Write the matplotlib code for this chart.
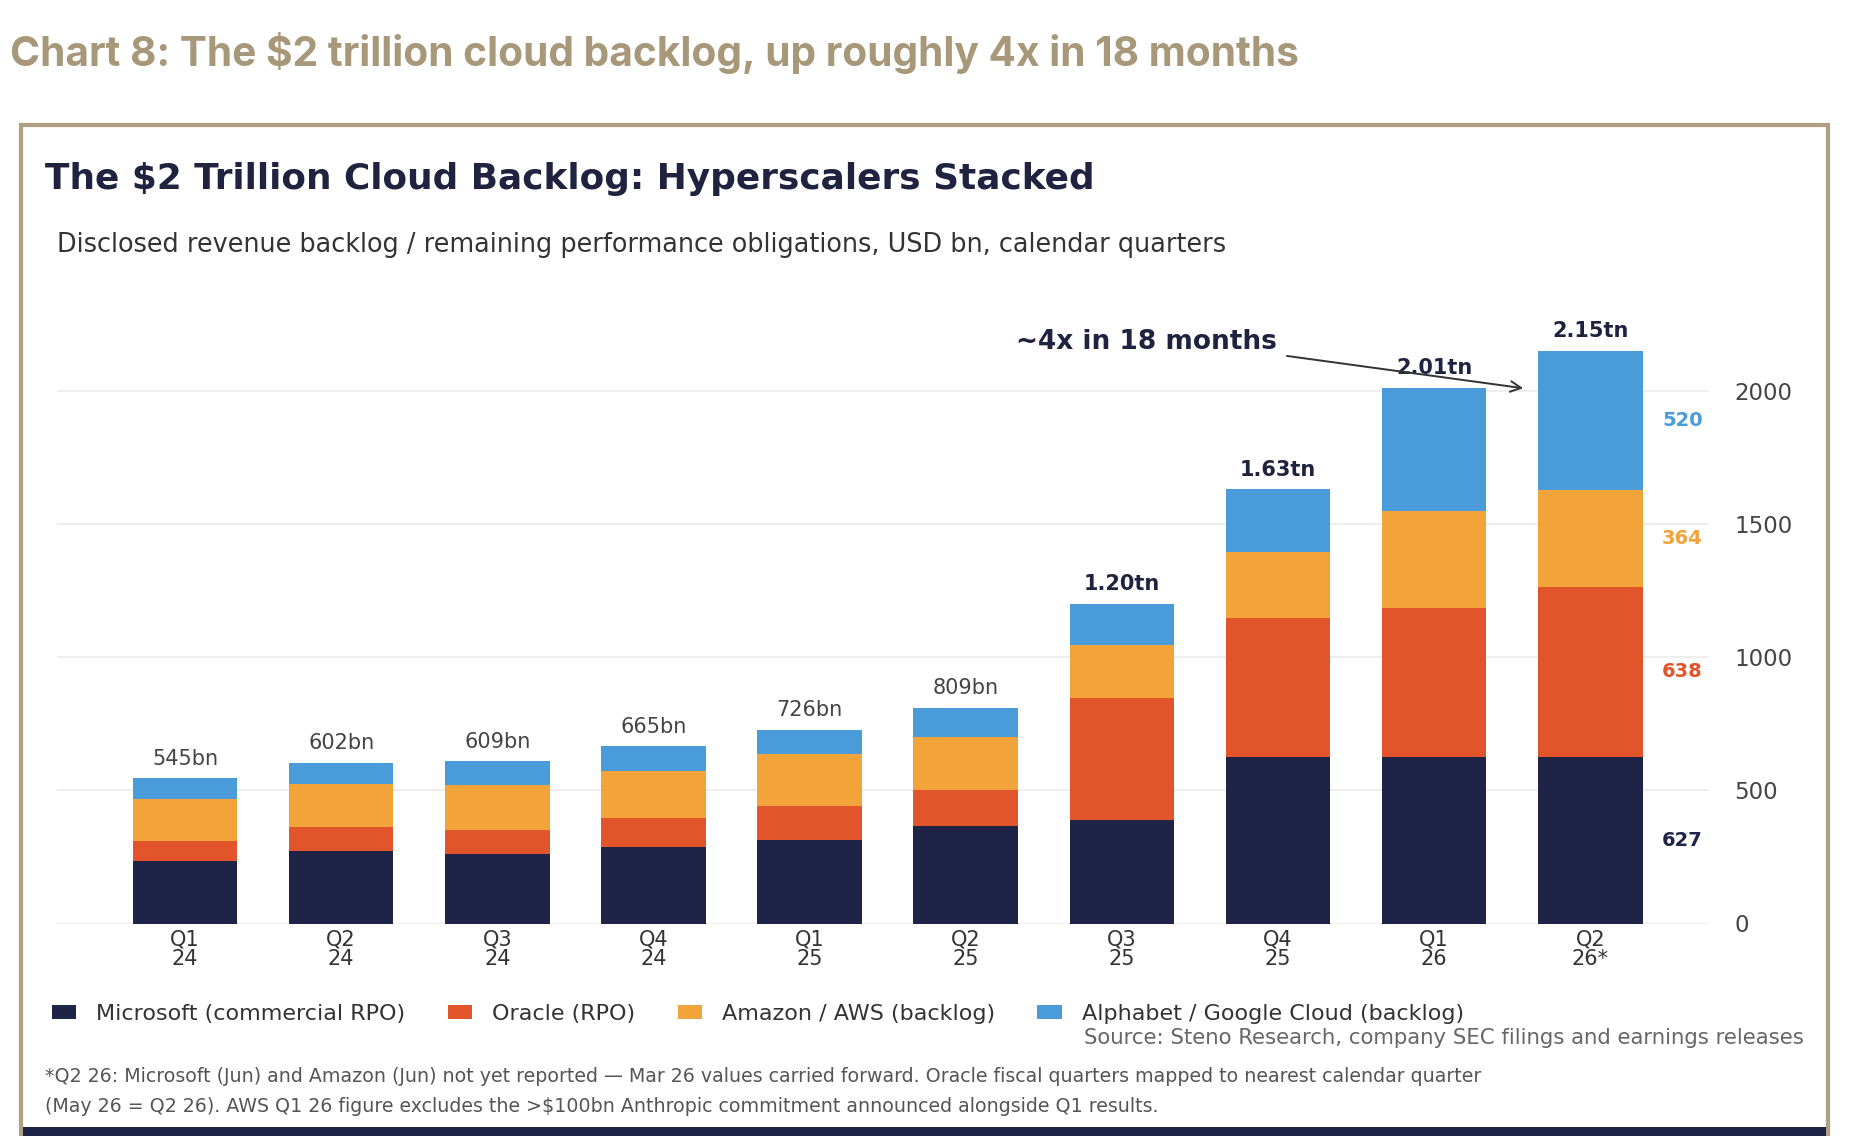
import matplotlib
matplotlib.use("Agg")
import matplotlib.pyplot as plt
from matplotlib.patches import Rectangle, Patch
import numpy as np

plt.rcParams['font.family'] = ['DejaVu Sans']

# ---------------- data ----------------
quarters = ['Q1\n24', 'Q2\n24', 'Q3\n24', 'Q4\n24', 'Q1\n25', 'Q2\n25',
            'Q3\n25', 'Q4\n25', 'Q1\n26', 'Q2\n26*']
microsoft = [235, 272, 260, 289, 313, 367, 390, 625, 627, 627]
oracle = [76, 92, 92, 108, 129, 135, 455, 523, 558, 638]
amazon = [156, 158, 167, 174, 195, 197, 200, 248, 364, 364]
google = [78, 80, 90, 94, 89, 110, 155, 234, 463, 520]
total_labels = ['545bn', '602bn', '609bn', '665bn', '726bn', '809bn',
                '1.20tn', '1.63tn', '2.01tn', '2.15tn']
series_names = ['Microsoft (commercial RPO)', 'Oracle (RPO)',
                'Amazon / AWS (backlog)', 'Alphabet / Google Cloud (backlog)']
y_ticks = [0, 500, 1000, 1500, 2000]

# ---------------- style ----------------
C_MS = '#1F2348'
C_OR = '#E2542A'
C_AM = '#F2A33A'
C_GO = '#4A9BDA'
TAN = '#B0A083'

W, H = 1860, 1136
fig = plt.figure(figsize=(W / 100, H / 100), dpi=100)
fig.patch.set_facecolor('white')

def fx(px):
    return px / W

def fy(py):
    return 1 - py / H

# page title
fig.text(fx(10), fy(53), 'Chart 8: The $2 trillion cloud backlog, up roughly 4x in 18 months',
         family=['Inter', 'DejaVu Sans'], fontweight='bold', fontsize=29.3, color='#A8987A',
         ha='left', va='center')

# box frame
fig.patches.append(Rectangle((fx(21), fy(1140)), fx(1828) - fx(21), fy(125) - fy(1140),
                             transform=fig.transFigure, facecolor='none',
                             edgecolor=TAN, linewidth=3, zorder=-1))
fig.patches.append(Rectangle((fx(21), fy(126)), fx(1828) - fx(21), 3 / H,
                             transform=fig.transFigure, facecolor=TAN,
                             edgecolor='none', zorder=-1))
# bottom dark strip
fig.patches.append(Rectangle((fx(23), 0), fx(1826) - fx(23), 9 / H,
                             transform=fig.transFigure, facecolor=C_MS,
                             edgecolor='none', zorder=-1))

# inner title / subtitle
fig.text(fx(45), fy(179), 'The $2 Trillion Cloud Backlog: Hyperscalers Stacked',
         fontweight='bold', fontsize=25.8, color='#1F2340', ha='left', va='center')
fig.text(fx(57), fy(245), 'Disclosed revenue backlog / remaining performance obligations, USD bn, calendar quarters',
         fontsize=18.4, color='#333333', ha='left', va='center')

# ---------------- axes ----------------
ax = fig.add_axes([fx(57), fy(923.5), fx(1709) - fx(57), (923.5 - 311) / H])
x = np.arange(len(quarters))
width = 0.67
ms = np.array(microsoft)
orc = np.array(oracle)
am = np.array(amazon)
go = np.array(google)

ax.bar(x, ms, width, color=C_MS, label=series_names[0], zorder=3)
ax.bar(x, orc, width, bottom=ms, color=C_OR, label=series_names[1], zorder=3)
ax.bar(x, am, width, bottom=ms + orc, color=C_AM, label=series_names[2], zorder=3)
ax.bar(x, go, width, bottom=ms + orc + am, color=C_GO, label=series_names[3], zorder=3)

totals = ms + orc + am + go
for i, (t, lab) in enumerate(zip(totals, total_labels)):
    bold = lab.endswith('tn')
    ax.annotate(lab, (i, t), xytext=(0, 7), textcoords='offset points',
                ha='center', va='bottom', fontsize=15,
                fontweight='bold' if bold else 'normal',
                color='#1F2340' if bold else '#444444', zorder=5)

# right-side segment labels for last bar
last = len(quarters) - 1
lx = last + 0.59
ax.text(lx, ms[last] / 2, f'{microsoft[last]}', color=C_MS, fontsize=14,
        fontweight='bold', ha='center', va='center')
ax.text(lx, ms[last] + orc[last] / 2, f'{oracle[last]}', color=C_OR, fontsize=14,
        fontweight='bold', ha='center', va='center')
ax.text(lx, ms[last] + orc[last] + am[last] / 2, f'{amazon[last]}', color=C_AM, fontsize=14,
        fontweight='bold', ha='center', va='center')
ax.text(lx, ms[last] + orc[last] + am[last] + go[last] / 2, f'{google[last]}', color=C_GO,
        fontsize=14, fontweight='bold', ha='center', va='center')

# annotation arrow
ax.annotate('~4x in 18 months', xy=(8.57, 2010), xytext=(6.16, 2185),
            ha='center', va='center', fontsize=19, fontweight='bold', color='#1F2340',
            arrowprops=dict(arrowstyle='->', color='#333333', lw=1.4,
                            relpos=(1.0, 0.0), shrinkA=5, shrinkB=0), zorder=6)

ax.set_xlim(-0.82, 9.76)
ax.set_ylim(0, 2300)
ax.set_xticks(x)
ax.set_xticklabels(quarters, fontsize=15, color='#333333', linespacing=1.0)
ax.set_yticks(y_ticks)
ax.yaxis.tick_right()
ax.tick_params(axis='y', labelsize=16.5, colors='#444444', length=0, pad=18)
ax.tick_params(axis='x', length=0, pad=4)
ax.grid(axis='y', color='#EBEBEB', linewidth=1.2, zorder=0)
for s in ax.spines.values():
    s.set_visible(False)
ax.set_facecolor('none')

# legend
handles = [Patch(facecolor=c, edgecolor='none') for c in [C_MS, C_OR, C_AM, C_GO]]
fig.legend(handles, series_names, loc='center left', bbox_to_anchor=(fx(32), fy(1014)),
           ncol=4, frameon=False, fontsize=16, handlelength=1.1, handleheight=0.55,
           columnspacing=1.9, handletextpad=0.9, labelcolor='#333333')

fig.text(fx(1804), fy(1038), 'Source: Steno Research, company SEC filings and earnings releases',
         fontsize=15.3, color='#666666', ha='right', va='center')

fig.text(fx(45), fy(1077), '*Q2 26: Microsoft (Jun) and Amazon (Jun) not yet reported \u2014 Mar 26 values carried forward. '
         'Oracle fiscal quarters mapped to nearest calendar quarter',
         fontsize=13.7, color='#555555', ha='left', va='center')
fig.text(fx(45), fy(1107), '(May 26 = Q2 26). AWS Q1 26 figure excludes the >$100bn Anthropic commitment '
         'announced alongside Q1 results.',
         fontsize=13.7, color='#555555', ha='left', va='center')

fig.savefig('out.png', dpi=100, facecolor='white')
